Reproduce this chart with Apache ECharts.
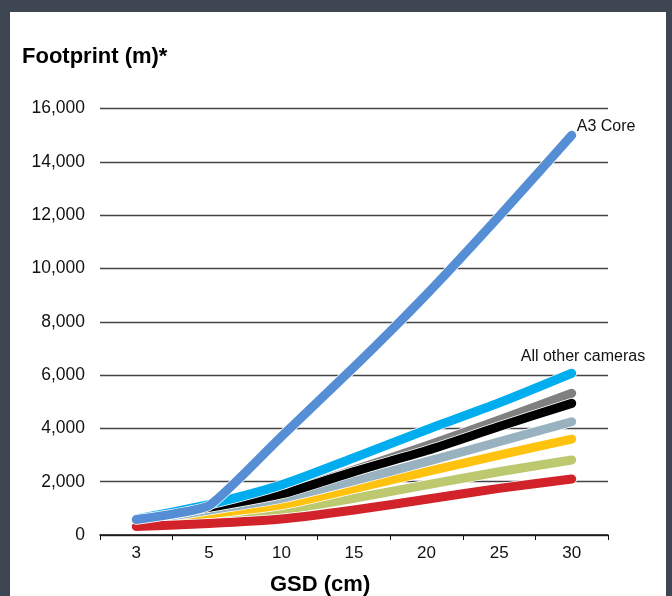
<!DOCTYPE html>
<html>
<head>
<meta charset="utf-8">
<script src="https://cdn.jsdelivr.net/npm/echarts@6/dist/echarts.min.js"></script>
<style>
html,body{margin:0;padding:0;background:#3e4751;}
#chart{width:672px;height:596px;}
</style>
</head>
<body>
<div id="chart"></div>
<script>
var categories = ['3', '5', '10', '15', '20', '25', '30'];
var yTicks = [0, 2000, 4000, 6000, 8000, 10000, 12000, 14000, 16000];
var a3Core  = [580, 1100, 3700, 6300, 9030, 11960, 15000];
var camCyan = [600, 1150, 1880, 2900, 3950, 4960, 6070];
var camGray = [560, 1060, 1560, 2440, 3350, 4320, 5320];
var camBlack = [540, 1040, 1540, 2380, 3170, 4070, 4940];
var camSlate = [500, 940, 1380, 2040, 2750, 3500, 4250];
var camYellow = [450, 790, 1130, 1740, 2380, 3000, 3600];
var camGreen = [360, 660, 940, 1380, 1880, 2375, 2815];
var camRed = [320, 430, 600, 940, 1340, 1750, 2100];

var FONT = "'Liberation Sans', Arial, sans-serif";

function lineSeries(name, data, color, extra) {
  var s = {
    name: name,
    type: 'line',
    data: data,
    smooth: 0.25,
    symbol: 'none',
    lineStyle: { color: color, width: 9, cap: 'round', join: 'round' },
    emphasis: { disabled: true },
    silent: true
  };
  if (extra) { for (var k in extra) s[k] = extra[k]; }
  return s;
}
function withEdge(name, data, color, extra) {
  var edge = lineSeries(name + ' edge', data, '#ffffff',
    extra && extra.smooth !== undefined ? { smooth: extra.smooth } : null);
  edge.lineStyle.width = 10.5;
  return [edge, lineSeries(name, data, color, extra)];
}

var series = [].concat(
  withEdge('Cam 7', camGreen, '#bdc96f'),
  withEdge('Cam 6', camYellow, '#ffc20e'),
  withEdge('Cam 5', camSlate, '#98b2bf'),
  withEdge('Cam 3', camGray, '#808080'),
  withEdge('Cam 4', camBlack, '#000000'),
  withEdge('Cam 2', camCyan, '#00aeef', {
    endLabel: { show: true, formatter: 'All other cameras', distance: 0, offset: [-51, -17],
      fontFamily: FONT, fontSize: 16, color: '#111' }
  }),
  withEdge('Cam 8', camRed, '#d2232a'),
  withEdge('A3 Core', a3Core, '#558ed5', {
    smooth: 0.15,
    endLabel: { show: true, formatter: 'A3 Core', distance: 0, offset: [5, -9],
      fontFamily: FONT, fontSize: 16, color: '#111' }
  })
);

var chart = echarts.init(document.getElementById('chart'));
chart.setOption({
  backgroundColor: '#3e4751',
  animation: false,
  graphic: [{
    type: 'rect',
    shape: { x: 10, y: 12, width: 656, height: 600 },
    style: { fill: '#ffffff' },
    z: -10
  }],
  title: [{
    text: 'Footprint (m)*',
    left: 17, top: 41,
    textStyle: { fontFamily: FONT, fontWeight: 'bold', fontSize: 22, color: '#000' }
  }, {
    text: 'GSD (cm)',
    left: 265, top: 569,
    textStyle: { fontFamily: FONT, fontWeight: 'bold', fontSize: 22, color: '#000' }
  }],
  grid: { left: 100, right: 64, top: 108.6, bottom: 61, containLabel: false },
  xAxis: {
    type: 'category',
    data: categories,
    boundaryGap: true,
    axisLine: { show: true, lineStyle: { color: '#111', width: 1.5 } },
    axisTick: { show: true, length: 5, lineStyle: { color: '#111', width: 1 } },
    axisLabel: { fontFamily: FONT, fontSize: 17, color: '#111', margin: 10 },
    splitLine: { show: false }
  },
  yAxis: {
    type: 'value',
    min: yTicks[0],
    max: yTicks[yTicks.length - 1],
    interval: 2000,
    axisLine: { show: false },
    axisTick: { show: false },
    axisLabel: {
      fontFamily: FONT, fontSize: 17.5, color: '#111', margin: 15,
      formatter: function (v) { return v.toLocaleString('en-US'); }
    },
    splitLine: { show: true, lineStyle: { color: '#444', width: 1.4 } }
  },
  series: series
});
</script>
</body>
</html>
